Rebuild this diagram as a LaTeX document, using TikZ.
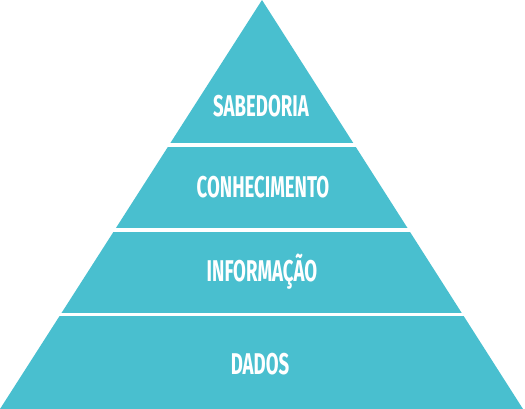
\documentclass[tikz,border=0pt]{standalone}
\usepackage{fontspec}
\newfontfamily\labelfont[FakeStretch=0.62]{Fira Sans}
\definecolor{pyr}{RGB}{73,191,207}
\begin{document}
\begin{tikzpicture}[x=1pt,y=-1pt,
  tierlabel/.style={text=white,font=\labelfont\bfseries\fontsize{30}{30}\selectfont,inner sep=0pt,anchor=center},
  gap/.style={draw=white,line width=3.6pt}]
\useasboundingbox[fill=white] (0,0) rectangle (525,409);
\coordinate (apex) at (262,0);
\coordinate (bl) at (0,409);
\coordinate (br) at (523,409);
\fill[pyr] (apex) -- (br) -- (bl) -- cycle;
\coordinate (g1l) at (0,144.8); \coordinate (g1r) at (525,144.8);
\coordinate (g2l) at (0,229.7); \coordinate (g2r) at (525,229.7);
\coordinate (g3l) at (0,314.6); \coordinate (g3r) at (525,314.6);
\draw[gap] (g1l) -- (g1r);
\draw[gap] (g2l) -- (g2r);
\draw[gap] (g3l) -- (g3r);
\node[tierlabel] (sab) at (261,106) {SABEDORIA};
\node[tierlabel] (con) at (263,187) {CONHECIMENTO};
\node[tierlabel] (inf) at (262,272) {INFORMAÇÃO};
\node[tierlabel] (dad) at (260,364) {DADOS};
\end{tikzpicture}
\end{document}
